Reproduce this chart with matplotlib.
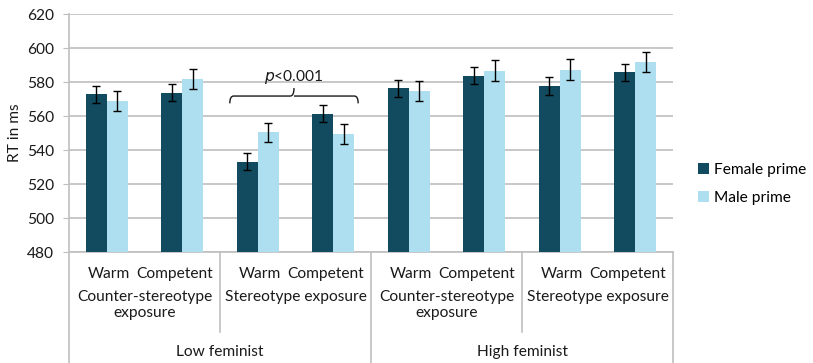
import matplotlib.pyplot as plt
import matplotlib.transforms as mtransforms
from matplotlib.path import Path
from matplotlib.patches import PathPatch
import numpy as np

plt.rcParams['font.family'] = ['Lato', 'DejaVu Sans']

# data
conditions = ['Warm', 'Competent'] * 4
exposures = ['Counter-stereotype\nexposure', 'Stereotype exposure'] * 2
groups = ['Low feminist', 'High feminist']
female = [572.8, 573.8, 533.2, 561.5, 576.4, 583.6, 577.7, 585.9]
male = [568.9, 581.8, 550.5, 549.5, 574.8, 586.7, 587.3, 591.8]
female_err = [5, 5, 5, 5, 5, 5, 5, 5]
male_err = [6, 6, 5.7, 5.7, 6, 6, 6, 6]

dark = '#124a5f'
light = '#aedff0'
grid_c = '#bfbfbf'
txt_c = '#1a1a1a'
fs = 11.2

fig = plt.figure(figsize=(8.13, 3.63), dpi=100)
ax = fig.add_axes([69 / 813, 1 - 252.3 / 363, 604 / 813, 238.3 / 363])

x = np.arange(len(female))
w = 0.28
ax.bar(x - w / 2, female, w, color=dark, label='Female prime', zorder=3)
ax.bar(x + w / 2, male, w, color=light, label='Male prime', zorder=3)
ax.errorbar(x - w / 2, female, yerr=female_err, fmt='none', ecolor='black',
            elinewidth=1, capsize=3, capthick=1, zorder=4)
ax.errorbar(x + w / 2, male, yerr=male_err, fmt='none', ecolor='black',
            elinewidth=1, capsize=3, capthick=1, zorder=4)

ax.set_xlim(-0.5, 7.5)
ax.set_ylim(480, 620)
ax.set_yticks(np.arange(480, 621, 20))
ax.yaxis.grid(True, color=grid_c, lw=1.2, zorder=0)
ax.set_xticks([])
for s in ['top', 'right']:
    ax.spines[s].set_visible(False)
for s in ['left', 'bottom']:
    ax.spines[s].set_color(grid_c)
    ax.spines[s].set_linewidth(1.2)
ax.tick_params(axis='y', direction='out', length=4.5, color=grid_c,
               labelsize=fs, labelcolor=txt_c, pad=6.5)
ax.set_ylabel('RT in ms', fontsize=fs, color=txt_c, labelpad=3)

# p-value brace over the stereotype exposure pair
x0, x1, xm = 1.63, 3.33, 2.48
yb, yl, yt = 567.5, 571.8, 576.5
dx = 0.05
verts = [(x0, yb), (x0, yl), (x0 + dx, yl), (xm - dx, yl), (xm, yl), (xm, yt),
         (xm, yl), (xm + dx, yl), (x1 - dx, yl), (x1, yl), (x1, yb)]
codes = [Path.MOVETO, Path.CURVE3, Path.CURVE3, Path.LINETO, Path.CURVE3, Path.CURVE3,
         Path.MOVETO, Path.LINETO, Path.LINETO, Path.CURVE3, Path.CURVE3]
ax.add_patch(PathPatch(Path(verts, codes), fill=False, lw=1, ec=txt_c, zorder=5))
ax.text(xm, 577.5, r'$\it{p}$<0.001', ha='center', va='bottom', fontsize=fs, color=txt_c)

# multi-level category axis
tr = mtransforms.blended_transform_factory(ax.transData, fig.transFigure)
ybot = 1 - 252.3 / 363
for xs in [-0.5, 3.5, 7.5]:
    ax.plot([xs, xs], [ybot, 0], color=grid_c, lw=1.2, transform=tr, clip_on=False)
for xs in [1.5, 5.5]:
    ax.plot([xs, xs], [ybot, 1 - 332 / 363], color=grid_c, lw=1.2, transform=tr, clip_on=False)

for i, c in enumerate(conditions):
    off = 0.03 if c == 'Warm' else -0.1
    ax.text(i + off, 1 - 274 / 363, c, ha='center', va='center', fontsize=fs,
            color=txt_c, transform=tr)
for j, e in enumerate(exposures):
    ax.text(2 * j + 0.5, 1 - 290 / 363, e, ha='center', va='top', fontsize=fs,
            color=txt_c, transform=tr, linespacing=1.2)
for k, g in enumerate(groups):
    ax.text(4 * k + 1.5, 1 - 352 / 363, g, ha='center', va='center', fontsize=fs,
            color=txt_c, transform=tr)

ax.legend(loc='center left', bbox_to_anchor=(698 / 813, 1 - 184 / 363),
          bbox_transform=fig.transFigure, frameon=False, fontsize=fs,
          borderpad=0, borderaxespad=0,
          handlelength=0.7, handleheight=0.7, handletextpad=0.3, labelspacing=0.9)

fig.savefig('out.png', dpi=100)
